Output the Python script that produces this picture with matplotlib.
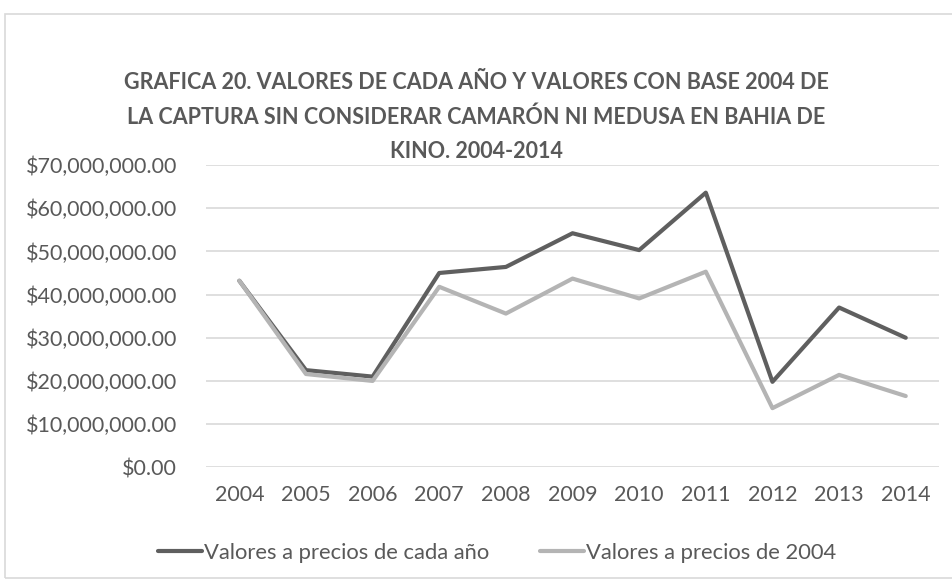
import matplotlib.pyplot as plt
from matplotlib.patches import Rectangle
from matplotlib.ticker import FuncFormatter

years = ['2004', '2005', '2006', '2007', '2008', '2009', '2010', '2011', '2012', '2013', '2014']
# millones de pesos
valores_cada_anio = [43.2, 22.5, 21.0, 45.0, 46.4, 54.2, 50.3, 63.6, 19.8, 37.0, 30.0]
valores_base_2004 = [43.2, 21.6, 20.0, 41.8, 35.6, 43.7, 39.1, 45.3, 13.7, 21.4, 16.5]

titulo = ("GRAFICA 20. VALORES DE CADA AÑO Y VALORES CON BASE 2004 DE\n"
          "LA CAPTURA SIN CONSIDERAR CAMARÓN NI MEDUSA EN BAHIA DE\n"
          "KINO. 2004-2014")

plt.rcParams['font.family'] = ['Lato', 'DejaVu Sans']

fig = plt.figure(figsize=(9.52, 5.85), dpi=100)
fig.patches.append(Rectangle((0.005, 0.012), 1.2, 0.964, transform=fig.transFigure,
                             fill=False, edgecolor='#d9d9d9', linewidth=1.2))

ax = fig.add_axes([0.2164, 0.2012, 0.77, 0.5167])
x = list(range(len(years)))
ax.plot(x, [v * 1e6 for v in valores_cada_anio], color='#5f5f5f', linewidth=3.0,
        label='Valores a precios de cada año', solid_capstyle='round')
ax.plot(x, [v * 1e6 for v in valores_base_2004], color='#b4b4b4', linewidth=3.0,
        label='Valores a precios de 2004', solid_capstyle='round')

ax.set_xlim(-0.5, len(years) - 0.5)
ax.set_ylim(0, 70e6)
ax.set_yticks([i * 10e6 for i in range(8)])
ax.yaxis.set_major_formatter(FuncFormatter(lambda v, p: '${:,.2f}'.format(v)))
ax.set_xticks(x)
ax.set_xticklabels(years)
ax.grid(axis='y', color='#d9d9d9', linewidth=1.2)
ax.set_axisbelow(True)
for s in ax.spines.values():
    s.set_visible(False)
ax.tick_params(length=0, labelsize=15.5, colors='#595959')
ax.tick_params(axis='y', pad=21)
ax.tick_params(axis='x', pad=13)

fig.text(0.5, 0.8, titulo, ha='center', va='center', fontsize=15.5,
         fontweight='bold', color='#595959', linespacing=1.78)

ax.legend(loc='center', bbox_to_anchor=(0.522, 0.055), bbox_transform=fig.transFigure,
          ncol=2, frameon=False, fontsize=15.8, labelcolor='#595959',
          handlelength=2.0, handletextpad=0.1, columnspacing=2.3)

plt.savefig('out.png', dpi=100)
